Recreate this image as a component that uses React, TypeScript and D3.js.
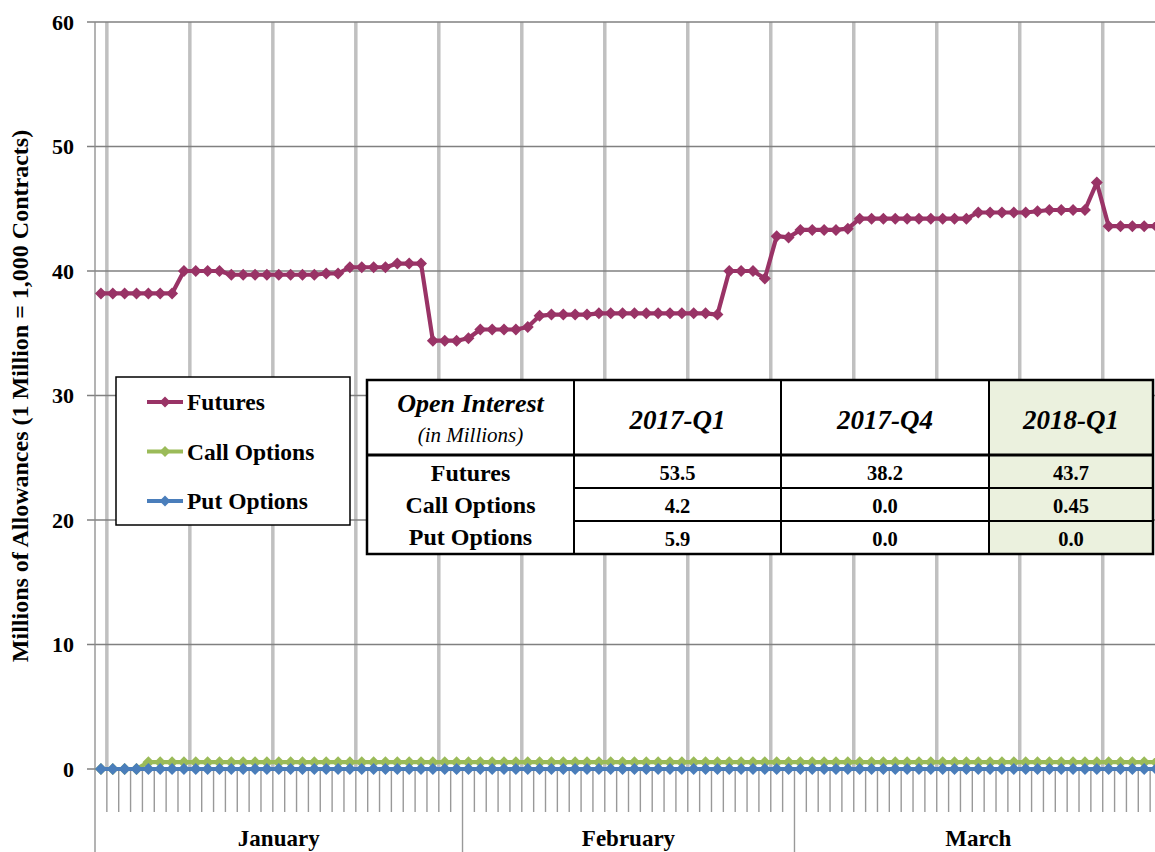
import * as d3 from 'd3';

// Q1 2018 daily open interest (millions of allowances)
const months = ['January', 'February', 'March'];
const monthDays = [31, 28, 31];
const yTicks = [0, 10, 20, 30, 40, 50, 60];

const futures = [
  38.2, 38.2, 38.2, 38.2, 38.2, 38.2, 38.2,
  40.0, 40.0, 40.0, 40.0,
  39.7, 39.7, 39.7, 39.7, 39.7, 39.7, 39.7, 39.7, 39.8, 39.8,
  40.3, 40.3, 40.3, 40.3,
  40.6, 40.6, 40.6,
  34.4, 34.4, 34.4, 34.6,
  35.3, 35.3, 35.3, 35.3,
  35.5,
  36.4, 36.5, 36.5, 36.5, 36.5,
  36.6, 36.6, 36.6, 36.6, 36.6, 36.6, 36.6, 36.6, 36.6, 36.6,
  36.5,
  40.0, 40.0, 40.0,
  39.4,
  42.8, 42.7,
  43.3, 43.3, 43.3, 43.3, 43.4,
  44.2, 44.2, 44.2, 44.2, 44.2, 44.2, 44.2, 44.2, 44.2, 44.2,
  44.7, 44.7, 44.7, 44.7, 44.7, 44.8,
  44.9, 44.9, 44.9, 44.9,
  47.1,
  43.6, 43.6, 43.6, 43.6, 43.6,
];

const callOptions = [
  0, 0, 0, 0, 0.55, 0.55, 0.55, 0.55, 0.55, 0.55,
  0.55, 0.55, 0.55, 0.55, 0.55, 0.55, 0.55, 0.55, 0.55, 0.55,
  0.55, 0.55, 0.55, 0.55, 0.55, 0.55, 0.55, 0.55, 0.55, 0.55,
  0.55, 0.55, 0.55, 0.55, 0.55, 0.55, 0.55, 0.55, 0.55, 0.55,
  0.55, 0.55, 0.55, 0.55, 0.55, 0.55, 0.55, 0.55, 0.55, 0.55,
  0.55, 0.55, 0.55, 0.55, 0.55, 0.55, 0.55, 0.55, 0.55, 0.55,
  0.55, 0.55, 0.55, 0.55, 0.55, 0.55, 0.55, 0.55, 0.55, 0.55,
  0.55, 0.55, 0.55, 0.55, 0.55, 0.55, 0.55, 0.55, 0.55, 0.55,
  0.55, 0.55, 0.55, 0.55, 0.55, 0.55, 0.55, 0.55, 0.55, 0.55,
];

const putOptions = [
  0, 0, 0, 0, 0, 0, 0, 0, 0, 0,
  0, 0, 0, 0, 0, 0, 0, 0, 0, 0,
  0, 0, 0, 0, 0, 0, 0, 0, 0, 0,
  0, 0, 0, 0, 0, 0, 0, 0, 0, 0,
  0, 0, 0, 0, 0, 0, 0, 0, 0, 0,
  0, 0, 0, 0, 0, 0, 0, 0, 0, 0,
  0, 0, 0, 0, 0, 0, 0, 0, 0, 0,
  0, 0, 0, 0, 0, 0, 0, 0, 0, 0,
  0, 0, 0, 0, 0, 0, 0, 0, 0, 0,
];

const seriesNames = ['Futures', 'Call Options', 'Put Options'];
const seriesColors = ['#993366', '#9bbb59', '#4a7ebb'];

// summary table
const quarters = ['2017-Q1', '2017-Q4', '2018-Q1'];
const rowLabels = ['Futures', 'Call Options', 'Put Options'];
const q2017Q1 = ['53.5', '4.2', '5.9'];
const q2017Q4 = ['38.2', '0.0', '0.0'];
const q2018Q1 = ['43.7', '0.45', '0.0'];

const FONT = '"Liberation Serif", "Times New Roman", serif';
const W = 1155;
const H = 852;

const diamond = (r: number) => `M0,${-r}L${r},0L0,${r}L${-r},0Z`;

export default function App() {
  const left = 95;
  const right = 1162;
  const top = 22;
  const bottom = 769;
  const nDays = futures.length;

  const x = d3.scaleBand<number>().domain(d3.range(nDays)).range([left, right]);
  const bw = x.bandwidth();
  const cx = (i: number) => (x(i) as number) + bw / 2;
  const y = d3.scaleLinear().domain([0, 60]).range([bottom, top]);

  const line = d3.line<number>().x((_, i) => cx(i)).y((d) => y(d));
  const allSeries = [futures, callOptions, putOptions];

  // boundaries between days
  const boundaries = d3.range(1, nDays).map((k) => left + k * bw);
  const monthStarts: number[] = [];
  let acc = 0;
  monthDays.forEach((d) => { monthStarts.push(acc); acc += d; });

  // table geometry
  const tCols = [367, 574, 781, 989, 1153];
  const tRows = [380, 455, 488, 521, 554];
  const colValues = [q2017Q1, q2017Q4, q2018Q1];

  return (
    <svg width={W} height={H} style={{ position: 'absolute', left: 0, top: 0, background: '#fff' }} fontFamily={FONT}>
      {/* vertical weekly gridlines */}
      {boundaries.map((bx, k) => ((k % 7) === 0 ? (
        <line key={'vg' + k} x1={bx} x2={bx} y1={top} y2={bottom} stroke="#c0c0c0" strokeWidth={3.5} />
      ) : null))}
      {/* horizontal gridlines */}
      {yTicks.map((t) => (
        <line key={'hg' + t} x1={left - 8} x2={right} y1={y(t)} y2={y(t)} stroke="#808080" strokeWidth={1.3} />
      ))}
      {/* y axis line */}
      <line x1={left} x2={left} y1={top} y2={H} stroke="#8a8a8a" strokeWidth={1.3} />
      {/* day ticks */}
      {boundaries.map((bx, k) => (
        <line key={'dt' + k} x1={bx} x2={bx} y1={bottom} y2={monthStarts.includes(k + 1) ? H : 812} stroke="#999" strokeWidth={1.4} />
      ))}
      {/* y tick labels */}
      {yTicks.map((t) => (
        <text key={'yl' + t} x={74} y={y(t) + 7.5} textAnchor="end" fontSize={22} fontWeight="bold">{t}</text>
      ))}
      <text transform={`translate(28,396) rotate(-90)`} textAnchor="middle" fontSize={24} fontWeight="bold">
        Millions of Allowances  (1 Million = 1,000 Contracts)
      </text>
      {/* month labels */}
      {months.map((m, i) => {
        const x0 = left + monthStarts[i] * bw;
        const x1 = left + (monthStarts[i] + monthDays[i]) * bw;
        return (
          <text key={m} x={(x0 + x1) / 2} y={846} textAnchor="middle" fontSize={23} fontWeight="bold">{m}</text>
        );
      })}
      {/* series */}
      {allSeries.map((s, si) => (
        <g key={'s' + si}>
          <path d={line(s) || ''} fill="none" stroke={seriesColors[si]} strokeWidth={4.2} strokeLinejoin="round" />
          {s.map((v, i) => (
            <path key={i} transform={`translate(${cx(i)},${y(v)})`} d={diamond(6)} fill={seriesColors[si]} />
          ))}
        </g>
      ))}
      {/* legend */}
      <rect x={116} y={377} width={234} height={148} fill="#fff" stroke="#000" strokeWidth={1.5} />
      {seriesNames.map((n, i) => {
        const ly = 402 + i * 49.5;
        return (
          <g key={n}>
            <line x1={147} x2={183} y1={ly} y2={ly} stroke={seriesColors[i]} strokeWidth={4.2} />
            <path transform={`translate(165,${ly})`} d={diamond(5.5)} fill={seriesColors[i]} />
            <text x={187} y={ly + 8} fontSize={23.5} fontWeight="bold">{n}</text>
          </g>
        );
      })}
      {/* summary table */}
      <rect x={tCols[0]} y={tRows[0]} width={tCols[4] - tCols[0]} height={tRows[4] - tRows[0]} fill="#fff" />
      <rect x={tCols[3]} y={tRows[0]} width={tCols[4] - tCols[3]} height={tRows[4] - tRows[0]} fill="#ebf1de" />
      {[1, 2, 3].map((c) => (
        <line key={'tc' + c} x1={tCols[c]} x2={tCols[c]} y1={tRows[0]} y2={tRows[4]} stroke="#000" strokeWidth={2} />
      ))}
      {[2, 3].map((r) => (
        <line key={'tr' + r} x1={tCols[1]} x2={tCols[4]} y1={tRows[r]} y2={tRows[r]} stroke="#000" strokeWidth={2} />
      ))}
      <line x1={tCols[0]} x2={tCols[4]} y1={tRows[1]} y2={tRows[1]} stroke="#000" strokeWidth={3} />
      <rect x={tCols[0]} y={tRows[0]} width={tCols[4] - tCols[0]} height={tRows[4] - tRows[0]} fill="none" stroke="#000" strokeWidth={2.5} />
      <text x={(tCols[0] + tCols[1]) / 2} y={412} textAnchor="middle" fontSize={26} fontWeight="bold" fontStyle="italic">Open Interest</text>
      <text x={(tCols[0] + tCols[1]) / 2} y={442} textAnchor="middle" fontSize={21} fontStyle="italic">(in Millions)</text>
      {quarters.map((q, c) => (
        <text key={q} x={(tCols[c + 1] + tCols[c + 2]) / 2} y={429} textAnchor="middle" fontSize={27} fontWeight="bold" fontStyle="italic">{q}</text>
      ))}
      {rowLabels.map((r, i) => (
        <text key={r} x={(tCols[0] + tCols[1]) / 2} y={481 + i * 32} textAnchor="middle" fontSize={24} fontWeight="bold">{r}</text>
      ))}
      {colValues.map((vals, c) => vals.map((v, i) => (
        <text key={c + '-' + i} x={(tCols[c + 1] + tCols[c + 2]) / 2} y={480 + i * 33} textAnchor="middle" fontSize={20.5} fontWeight="bold">{v}</text>
      )))}
    </svg>
  );
}
